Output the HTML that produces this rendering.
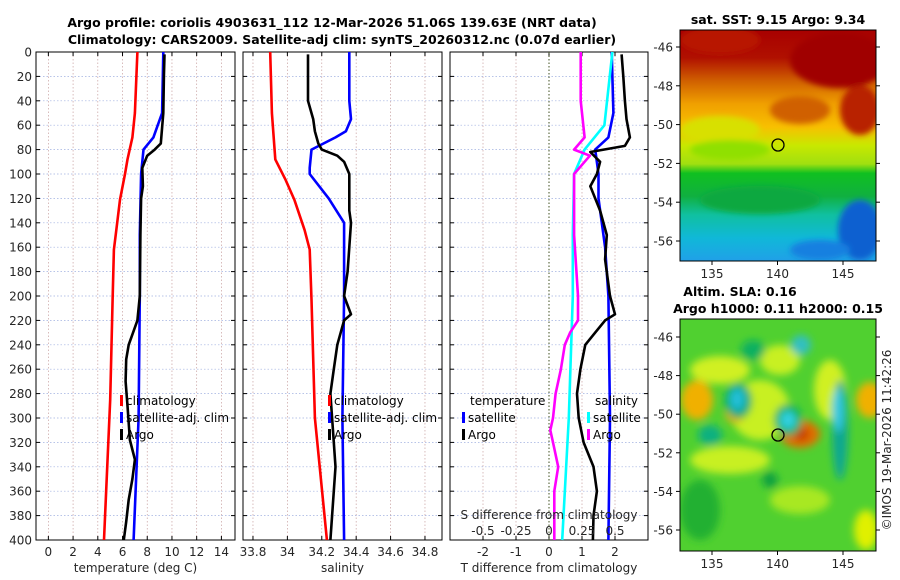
<!DOCTYPE html>
<html><head><meta charset="utf-8">
<style>
body{margin:0;background:#fff;}
svg{display:block;font-family:"DejaVu Sans","Liberation Sans",sans-serif;}
.t{font-size:12px;fill:#262626;}
.ti{font-size:12.5px;font-weight:bold;fill:#000;}
.lg{font-size:12px;fill:#000;}
</style></head>
<body>
<svg id="c" width="900" height="580" viewBox="0 0 900 580">
<defs>
<filter id="bl" x="-20%" y="-20%" width="140%" height="140%"><feGaussianBlur stdDeviation="3"/></filter>
<filter id="bl2" x="-30%" y="-30%" width="160%" height="160%"><feGaussianBlur stdDeviation="4"/></filter>
<linearGradient id="sst" x1="0" y1="0" x2="0" y2="1">
<stop offset="0" stop-color="#a80000"/><stop offset="0.12" stop-color="#b01000"/>
<stop offset="0.22" stop-color="#d06000"/><stop offset="0.32" stop-color="#f0a000"/>
<stop offset="0.42" stop-color="#f8c000"/><stop offset="0.5" stop-color="#c8e800"/>
<stop offset="0.58" stop-color="#a0e010"/><stop offset="0.62" stop-color="#10c020"/>
<stop offset="0.72" stop-color="#10b040"/><stop offset="0.8" stop-color="#10c0a0"/>
<stop offset="0.9" stop-color="#10b8d8"/><stop offset="1" stop-color="#20a0e8"/>
</linearGradient>
<clipPath id="m1c"><rect x="680" y="30" width="196" height="231"/></clipPath>
<clipPath id="m2c"><rect x="680" y="319" width="196" height="232"/></clipPath>
</defs>
<text class="ti" x="332" y="27" text-anchor="middle">Argo profile: coriolis 4903631_112 12-Mar-2026 51.06S 139.63E (NRT data)</text>
<text class="ti" x="342" y="44" text-anchor="middle">Climatology: CARS2009. Satellite-adj clim: synTS_20260312.nc (0.07d earlier)</text>
<g id="p1"></g>
<g id="p2"></g>
<g id="p3"></g>

<g>
<text class="ti" x="778" y="24" text-anchor="middle">sat. SST: 9.15 Argo: 9.34</text>
<g clip-path="url(#m1c)">
<rect x="680" y="30" width="196" height="231" fill="url(#sst)"/>
<g filter="url(#bl)">
<ellipse cx="840" cy="60" rx="50" ry="28" fill="#a00000"/>
<ellipse cx="720" cy="40" rx="40" ry="14" fill="#b81800"/>
<ellipse cx="800" cy="110" rx="30" ry="14" fill="#d06000"/>
<ellipse cx="860" cy="110" rx="20" ry="25" fill="#b82000"/>
<ellipse cx="720" cy="130" rx="40" ry="14" fill="#d8e000"/>
<ellipse cx="730" cy="150" rx="40" ry="10" fill="#90e000"/>
<ellipse cx="760" cy="200" rx="60" ry="14" fill="#10a840"/>
<ellipse cx="860" cy="230" rx="22" ry="30" fill="#1060d0"/>
<ellipse cx="820" cy="250" rx="30" ry="10" fill="#1880e0"/>
</g>
</g>
<rect x="680" y="30" width="196" height="231" fill="none" stroke="#000" stroke-width="1"/>
<circle cx="778" cy="145" r="6" fill="none" stroke="#000" stroke-width="1.3"/>
</g>

<g>
<text class="ti" x="740" y="296" text-anchor="middle">Altim. SLA: 0.16</text>
<text class="ti" x="778" y="313" text-anchor="middle">Argo h1000: 0.11 h2000: 0.15</text>
<g clip-path="url(#m2c)">
<rect x="680" y="319" width="196" height="232" fill="#50d030"/>
<g filter="url(#bl2)">
<ellipse cx="720" cy="370" rx="30" ry="14" fill="#d0f020"/>
<ellipse cx="780" cy="360" rx="20" ry="15" fill="#c8f020"/>
<ellipse cx="760" cy="410" rx="30" ry="30" fill="#c8f020"/>
<ellipse cx="730" cy="460" rx="40" ry="14" fill="#c8f020"/>
<ellipse cx="830" cy="390" rx="16" ry="30" fill="#d0f020"/>
<ellipse cx="800" cy="500" rx="30" ry="14" fill="#a8e820"/>
<ellipse cx="866" cy="530" rx="12" ry="20" fill="#e0f000"/>
<ellipse cx="697" cy="400" rx="16" ry="20" fill="#f0b000"/>
<ellipse cx="870" cy="400" rx="14" ry="18" fill="#f0b000"/>
<ellipse cx="735" cy="413" rx="10" ry="10" fill="#f0b000"/>
<ellipse cx="800" cy="434" rx="20" ry="14" fill="#e07000"/>
<ellipse cx="801" cy="434" rx="8" ry="7" fill="#c84000"/>
<ellipse cx="738" cy="401" rx="14" ry="18" fill="#10b050"/>
<ellipse cx="738" cy="400" rx="10" ry="14" fill="#10a8a0"/>
<ellipse cx="737" cy="399" rx="7" ry="10" fill="#20c0d8"/>
<ellipse cx="788" cy="420" rx="14" ry="16" fill="#10b060"/>
<ellipse cx="788" cy="420" rx="8" ry="9" fill="#30d0e0"/>
<ellipse cx="801" cy="345" rx="10" ry="10" fill="#30c0c0"/>
<ellipse cx="753" cy="350" rx="12" ry="10" fill="#10b060"/>
<ellipse cx="840" cy="430" rx="8" ry="50" fill="#10a890"/>
<ellipse cx="838" cy="410" rx="6" ry="22" fill="#30c8e0"/>
<ellipse cx="710" cy="435" rx="12" ry="10" fill="#10b080"/>
<ellipse cx="700" cy="510" rx="20" ry="30" fill="#20b030"/>
<ellipse cx="770" cy="480" rx="8" ry="8" fill="#10a040"/>
</g>
</g>
<rect x="680" y="319" width="196" height="232" fill="none" stroke="#000" stroke-width="1"/>
<circle cx="778" cy="435" r="6" fill="none" stroke="#000" stroke-width="1.3"/>
</g>
<text class="t" transform="translate(891,440) rotate(-90)" text-anchor="middle">©IMOS 19-Mar-2026 11:42:26</text>
<g id="maxes"></g>
</svg>
<script>
const NS='http://www.w3.org/2000/svg';
const depthTicks=[0,20,40,60,80,100,120,140,160,180,200,220,240,260,280,300,320,340,360,380,400];
const tempTicks=[0,2,4,6,8,10,12,14];
const salTicks=[33.8,34,34.2,34.4,34.6,34.8];
const tdiffTicks=[-2,-1,0,1,2];
const sdiffTicks=[-0.5,-0.25,0,0.25,0.5];
const sdiffTickLabels=['-0.5','-0.25','0','0.25','0.5'];
const latTicks=[-46,-48,-50,-52,-54,-56];
const lonTicks=[135,140,145];

const climDepth=[0,50,70,88,100,121,146,162,203,285,400];
const tempClim=[7.2,7.0,6.8,6.4,6.2,5.8,5.5,5.3,5.2,5.0,4.5];
const satDepth=[0,50,70,80,100,150,200,300,400];
const tempSat=[9.3,9.2,8.5,7.7,7.5,7.4,7.4,7.3,6.9];
const argoDepth=[2,20,50,75,80,85,95,110,120,150,200,220,240,252,270,290,318,334,350,367,385,400];
const tempArgo=[9.4,9.35,9.3,9.1,8.6,8.0,7.6,7.65,7.5,7.45,7.4,7.2,6.5,6.3,6.25,6.4,6.6,7.0,6.8,6.5,6.3,6.1];

const salClimDepth=[0,50,88,105,121,146,162,203,300,400];
const salClim=[33.9,33.91,33.93,33.99,34.04,34.10,34.13,34.14,34.16,34.23];
const salSatDepth=[0,40,55,65,70,80,95,100,120,140,200,300,400];
const salSat=[34.36,34.36,34.37,34.34,34.28,34.14,34.13,34.13,34.24,34.33,34.33,34.32,34.33];
const salArgoDepth=[2,40,55,65,75,80,85,90,100,120,130,140,160,180,200,215,220,240,260,280,300,320,340,360,380,400];
const salArgo=[34.12,34.12,34.15,34.16,34.18,34.2,34.29,34.33,34.36,34.36,34.36,34.37,34.36,34.35,34.33,34.37,34.33,34.29,34.27,34.25,34.26,34.27,34.28,34.27,34.26,34.25];

const tdSatDepth=[0,50,70,80,100,120,160,200,300,400];
const tdSat=[1.9,1.95,1.8,1.4,1.5,1.5,1.7,1.8,1.85,1.8];
const tdArgoDepth=[2,20,40,55,70,77,82,90,100,110,130,150,170,200,215,220,230,240,260,280,300,320,340,360,380,400];
const tdArgo=[2.2,2.25,2.3,2.35,2.45,2.3,1.25,1.55,1.45,1.25,1.55,1.75,1.7,1.85,2.0,1.7,1.4,1.1,0.95,0.85,0.9,1.05,1.35,1.45,1.35,1.33];
const sdSatDepth=[0,60,80,100,150,200,300,400];
const sdSat=[0.48,0.42,0.27,0.19,0.18,0.18,0.15,0.1];
const sdArgoDepth=[0,40,70,80,85,90,100,150,200,220,230,240,260,280,300,310,320,340,360,380,400];
const sdArgo=[0.24,0.24,0.27,0.19,0.31,0.27,0.19,0.19,0.22,0.22,0.16,0.12,0.09,0.05,0.03,0.01,0.03,0.07,0.04,0.04,0.04];

const svg=document.getElementById('c');
function el(tag,attrs,parent){const e=document.createElementNS(NS,tag);for(const k in attrs)e.setAttribute(k,attrs[k]);(parent||svg).appendChild(e);return e;}
function txt(s,x,y,anchor,cls,parent){const e=el('text',{x:x,y:y,'text-anchor':anchor,'class':cls},parent);e.textContent=s;return e;}

const Y0=52,Y1=540;
function yScale(d){return Y0+(d/400)*(Y1-Y0);}

function panel(g,x0,x1,xmin,xmax,ticks,labels,showY,title){
  const xs=v=>x0+(v-xmin)/(xmax-xmin)*(x1-x0);
  ticks.forEach(v=>{const l=el('line',{x1:xs(v),x2:xs(v),y1:Y0,y2:Y1,stroke:'#c8a0a0','stroke-width':0.7,'stroke-dasharray':'1.5,2'},g);
    
    });
  depthTicks.forEach(d=>{const l=el('line',{x1:x0,x2:x1,y1:yScale(d),y2:yScale(d),stroke:'#a0b0e0','stroke-width':0.7,'stroke-dasharray':'1.5,2'},g);
    
    });
  ticks.forEach((v,i)=>{el('line',{x1:xs(v),x2:xs(v),y1:Y1,y2:Y1-4,stroke:'#000'},g);el('line',{x1:xs(v),x2:xs(v),y1:Y0,y2:Y0+4,stroke:'#000'},g);
    const t=txt(labels[i],xs(v),556,'middle','t',g);
    
    });
  depthTicks.forEach(d=>{el('line',{x1:x0,x2:x0+4,y1:yScale(d),y2:yScale(d),stroke:'#000'},g);el('line',{x1:x1,x2:x1-4,y1:yScale(d),y2:yScale(d),stroke:'#000'},g);
    if(showY){const t=txt(String(d),x0-4,yScale(d)+4.5,'end','t',g);
      
      }});
  const r=el('rect',{x:x0,y:Y0,width:x1-x0,height:Y1-Y0,fill:'none',stroke:'#000','stroke-width':1},g);
  
  
  const t=txt(title,(x0+x1)/2,572,'middle','t',g);
  
  
  return xs;
}
function line(g,xs,depths,vals,color,name){
  const pts=depths.map((d,i)=>xs(vals[i]).toFixed(1)+','+yScale(d).toFixed(1)).join(' ');
  const p=el('polyline',{points:pts,fill:'none',stroke:color,'stroke-width':2.6,'stroke-linejoin':'round'},g);
  
  
}
function legend(g,x,y,items){
  items.forEach((it,i)=>{const yy=y+i*17;
    const r=el('rect',{x:x,y:yy-10,width:3,height:11,fill:it[1]},g);
    
    
    const t=txt(it[0],x+6,yy,'start','lg',g);
    
    });
}

const g1=document.getElementById('p1');
const x1s=panel(g1,36,235,-1,15.1,tempTicks,tempTicks.map(String),true,'temperature (deg C)');
line(g1,x1s,climDepth,tempClim,'#f00','temp-climatology-line');
line(g1,x1s,satDepth,tempSat,'#00f','temp-satellite-line');
line(g1,x1s,argoDepth,tempArgo,'#000','temp-argo-line');
legend(g1,120,405,[['climatology','#f00'],['satellite-adj. clim','#00f'],['Argo','#000']]);

const g2=document.getElementById('p2');
const x2s=panel(g2,243,442,33.742,34.899,salTicks,salTicks.map(String),false,'salinity');
line(g2,x2s,salClimDepth,salClim,'#f00','sal-climatology-line');
line(g2,x2s,salSatDepth,salSat,'#00f','sal-satellite-line');
line(g2,x2s,salArgoDepth,salArgo,'#000','sal-argo-line');
legend(g2,328,405,[['climatology','#f00'],['satellite-adj. clim','#00f'],['Argo','#000']]);

const g3=document.getElementById('p3');
const x3s=panel(g3,450,648,-3,3,tdiffTicks,tdiffTicks.map(String),false,'T difference from climatology');
const sds=v=>x3s(v*4);
const z=el('line',{x1:x3s(0),x2:x3s(0),y1:Y0,y2:Y1,stroke:'#405020','stroke-width':1,'stroke-dasharray':'1.5,2'},g3);


line(g3,x3s,tdSatDepth,tdSat,'#00f','tdiff-satellite-line');
line(g3,x3s,tdArgoDepth,tdArgo,'#000','tdiff-argo-line');
line(g3,sds,sdSatDepth,sdSat,'#0ff','sdiff-satellite-line');
line(g3,sds,sdArgoDepth,sdArgo,'#f0f','sdiff-argo-line');
let tt=txt('temperature',470,405,'start','lg',g3);


legend(g3,462,422,[['satellite','#00f'],['Argo','#000']]);
tt=txt('salinity',595,405,'start','lg',g3);


legend(g3,587,422,[['satellite','#0ff'],['Argo','#f0f']]);
tt=txt('S difference from climatology',549,519,'middle','t',g3);


sdiffTicks.forEach((v,i)=>{const t=txt(sdiffTickLabels[i],sds(v),535,'middle','t',g3);
  
  });

const ma=document.getElementById('maxes');
function mapAxes(top,bot,lat46y,lat56y){
  const ly=v=>lat46y+(v+46)/(-10)*(lat56y-lat46y);
  const lx=v=>712+(v-135)*13.1;
  latTicks.forEach(v=>{el('line',{x1:680,x2:676,y1:ly(v),y2:ly(v),stroke:'#000'},ma);el('line',{x1:876,x2:880,y1:ly(v),y2:ly(v),stroke:'#000'},ma);
    const t=txt(String(v),673,ly(v)+4.5,'end','t',ma);
    
    });
  lonTicks.forEach(v=>{el('line',{x1:lx(v),x2:lx(v),y1:bot,y2:bot+4,stroke:'#000'},ma);
    const t=txt(String(v),lx(v),bot+17,'middle','t',ma);
    
    });
}
mapAxes(30,261,47,241);
mapAxes(319,551,337,530);
</script>
</body></html>
